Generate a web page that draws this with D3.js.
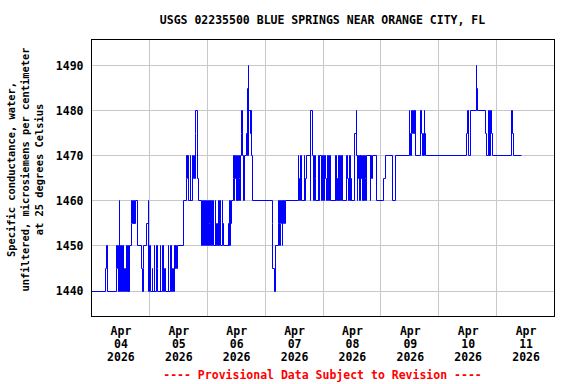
<!DOCTYPE html>
<html>
<head>
<meta charset="utf-8">
<script src="https://cdn.jsdelivr.net/npm/d3@7"></script>
<style>
    body { margin: 0; background: #fff; }
    text { font-family: "DejaVu Sans Mono", monospace; font-weight: bold; font-size: 11.5px; }
</style>
</head>
<body>
<div id="chart"></div>
<script>
// chart text
const title = "USGS 02235500 BLUE SPRINGS NEAR ORANGE CITY, FL";
const yTitle = ["Specific conductance, water,", "unfiltered, microsiemens per centimeter", "at 25 degrees Celsius"];
const footnote = "---- Provisional Data Subject to Revision ----";

// axis ticks
const yTicks = [1440, 1450, 1460, 1470, 1480, 1490];
const dayTicks = ["2026-04-04", "2026-04-05", "2026-04-06", "2026-04-07", "2026-04-08", "2026-04-09", "2026-04-10", "2026-04-11"];

// readings: [hours after Apr 04 00:00, value held from then on]
const steps = [
    [0, 1440], [6.0, 1445], [6.25, 1450], [6.75, 1440],
    [10.25, 1445], [10.5, 1450], [10.75, 1445], [11.0, 1450], [11.25, 1440], [11.5, 1460], [11.75, 1450],
    [12.0, 1440], [12.25, 1450], [12.5, 1445], [12.75, 1440], [13.0, 1450], [13.25, 1440], [13.75, 1445],
    [14.0, 1440], [14.5, 1450], [14.75, 1440], [15.25, 1450], [15.5, 1440], [15.75, 1450],
    [16.5, 1455], [16.75, 1460], [17.0, 1455], [17.25, 1460], [17.5, 1455], [17.75, 1460], [18.0, 1455], [18.25, 1460],
    [19.25, 1450], [20.75, 1445], [21.0, 1440], [21.5, 1445], [21.75, 1450], [23.0, 1455], [23.5, 1460],
    [23.75, 1440], [24.25, 1450], [24.5, 1440], [25.25, 1445], [25.5, 1440], [26.0, 1450], [26.25, 1440],
    [27.0, 1450], [27.25, 1445], [27.5, 1440], [28.5, 1450], [28.75, 1440], [29.5, 1450], [29.75, 1440],
    [30.25, 1445], [30.5, 1440], [31.75, 1450], [32.0, 1440], [32.75, 1450], [33.0, 1440], [33.75, 1445], [34.0, 1440],
    [34.5, 1450], [34.75, 1445], [35.0, 1450], [35.25, 1445], [35.5, 1450],
    [38.25, 1460], [39.25, 1465], [39.5, 1470], [39.75, 1465], [40.0, 1470], [40.25, 1460], [41.0, 1470], [41.25, 1460],
    [41.75, 1470], [42.0, 1465], [42.5, 1470], [42.75, 1465], [43.0, 1475], [43.25, 1480], [43.75, 1465], [44.25, 1460],
    [45.5, 1450], [46.0, 1460], [46.25, 1450], [46.5, 1455], [46.75, 1450], [47.0, 1460], [47.25, 1450], [47.75, 1460],
    [48.0, 1450], [48.5, 1460], [48.75, 1455], [49.0, 1450], [49.5, 1460], [49.75, 1450], [50.25, 1460], [50.5, 1450],
    [51.25, 1460], [51.5, 1450], [52.0, 1455], [52.25, 1450], [52.5, 1460], [52.75, 1450], [53.25, 1460], [53.5, 1450],
    [54.25, 1460], [54.5, 1455], [54.75, 1450], [56.75, 1455], [57.0, 1450], [57.25, 1460], [57.5, 1450], [57.75, 1455],
    [58.0, 1460], [58.75, 1465], [59.0, 1470], [59.25, 1460], [59.5, 1470], [59.75, 1465], [60.0, 1470], [60.25, 1460],
    [60.5, 1470], [60.75, 1460], [61.0, 1470], [61.25, 1465], [61.5, 1460], [61.75, 1470], [62.0, 1475], [62.25, 1480],
    [62.5, 1470], [63.0, 1460], [63.25, 1470], [64.25, 1475], [64.5, 1485], [64.75, 1470], [65.0, 1490], [65.25, 1480],
    [65.75, 1475], [66.0, 1480], [66.5, 1470], [66.75, 1460],
    [75.0, 1455], [75.25, 1445], [75.75, 1440], [76.25, 1450], [77.5, 1455], [77.75, 1460], [78.0, 1450], [78.25, 1455],
    [78.5, 1460], [78.75, 1455], [79.0, 1450], [79.25, 1460], [79.5, 1455], [79.75, 1460], [80.0, 1455], [80.25, 1460],
    [85.75, 1470], [86.0, 1465], [86.25, 1460], [86.75, 1470], [87.0, 1460], [88.25, 1470], [88.5, 1460], [88.75, 1465],
    [89.25, 1470], [90.75, 1460], [91.0, 1480], [91.75, 1470], [92.25, 1460], [92.5, 1470], [92.75, 1465], [93.0, 1460],
    [94.0, 1470], [94.25, 1460], [94.75, 1470], [95.5, 1460], [95.75, 1470], [96.0, 1460], [96.75, 1470], [97.0, 1465],
    [97.5, 1460], [98.0, 1470], [98.25, 1460], [98.5, 1470], [99.0, 1460], [101.0, 1470], [101.25, 1460], [101.5, 1470],
    [101.75, 1465], [102.0, 1460], [102.25, 1470], [102.5, 1460], [102.75, 1470], [103.25, 1460], [103.5, 1470], [104.0, 1460],
    [105.75, 1470], [106.0, 1465], [106.5, 1460], [107.0, 1470], [107.25, 1460], [107.75, 1465], [108.0, 1460], [109.0, 1470],
    [109.25, 1475], [109.75, 1480], [110.0, 1470], [110.25, 1460], [110.5, 1470], [110.75, 1465], [111.0, 1460], [111.25, 1470],
    [111.5, 1460], [111.75, 1470], [112.0, 1465], [112.25, 1470], [112.5, 1460], [112.75, 1470], [113.0, 1460], [113.25, 1470],
    [113.5, 1465], [113.75, 1460], [114.0, 1470], [115.5, 1460], [115.75, 1470], [116.25, 1465], [116.5, 1470],
    [118.25, 1460], [121.25, 1465], [121.75, 1470], [124.75, 1460], [126.0, 1470],
    [131.75, 1480], [132.0, 1475], [132.25, 1470], [132.5, 1475], [132.75, 1480], [133.0, 1475], [133.5, 1480], [133.75, 1475],
    [134.0, 1480], [134.25, 1470], [136.5, 1480], [137.0, 1475], [137.25, 1470], [137.5, 1475], [137.75, 1470], [138.0, 1480],
    [138.25, 1475], [138.5, 1470],
    [155.5, 1475], [155.75, 1480], [156.25, 1470], [157.0, 1480], [159.5, 1490], [159.75, 1485], [160.0, 1480],
    [163.5, 1475], [163.75, 1470], [164.5, 1480], [164.75, 1470], [165.0, 1480], [165.25, 1470], [165.5, 1480], [165.75, 1475],
    [166.25, 1470], [174.25, 1480], [174.5, 1475], [175.0, 1470], [178.5, 1470]
];

const W = 576, H = 384;
const margin = {top: 39, right: 22, bottom: 68, left: 91};
const width = W - margin.left - margin.right;
const height = H - margin.top - margin.bottom;

const start = new Date(2026, 3, 4);
const end = new Date(2026, 3, 12);
const toDate = h => new Date(start.getTime() + h * 3600e3);
const parseDay = d3.timeParse("%Y-%m-%d");

const data = steps.map(d => ({date: toDate(d[0]), value: d[1]}));

const svg = d3.select("#chart").append("svg")
    .attr("width", W)
    .attr("height", H);

const g = svg.append("g")
    .attr("transform", `translate(${margin.left + 0.5},${margin.top + 0.5})`);

const x = d3.scaleTime().domain([start, end]).range([0, width]);
const y = d3.scaleLinear().domain([1434.35, 1495.8]).range([height, 0]);

// grid
g.append("g")
    .attr("class", "grid")
    .selectAll("line")
    .data(yTicks)
    .join("line")
    .attr("x1", 0).attr("x2", width)
    .attr("y1", d => Math.round(y(d))).attr("y2", d => Math.round(y(d)))
    .attr("stroke", "#c8c8c8");

g.append("g")
    .attr("class", "grid")
    .selectAll("line")
    .data(dayTicks.slice(1))
    .join("line")
    .attr("x1", d => Math.round(x(parseDay(d)))).attr("x2", d => Math.round(x(parseDay(d))))
    .attr("y1", 0).attr("y2", height)
    .attr("stroke", "#c8c8c8");

// data line
const line = d3.line()
    .x(d => Math.round(x(d.date)))
    .y(d => Math.round(y(d.value)))
    .curve(d3.curveStepAfter);

g.append("path")
    .datum(data)
    .attr("d", line)
    .attr("fill", "none")
    .attr("stroke", "#0000ff")
    .attr("stroke-width", 1);

// frame
g.append("rect")
    .attr("width", width)
    .attr("height", height)
    .attr("fill", "none")
    .attr("stroke", "black");

// y axis labels
const yAxis = d3.axisLeft(y).tickValues(yTicks).tickSize(0).tickPadding(8).tickFormat(d3.format("d"));
g.append("g").call(yAxis)
    .call(a => a.select(".domain").remove())
    .selectAll("text")
    .attr("fill", "black")
    .style("font-size", "11.5px")
    .style("font-family", "DejaVu Sans Mono");

// x axis labels, centred on noon of each day
const noon = dayTicks.map(d => d3.timeHour.offset(parseDay(d), 12));
const xAxis = d3.axisBottom(x).tickValues(noon).tickSize(0).tickFormat("");
const xg = g.append("g")
    .attr("transform", `translate(0,${height})`)
    .call(xAxis);
xg.select(".domain").remove();
xg.selectAll(".tick").each(function(d) {
    const t = d3.select(this).append("text")
        .attr("fill", "black")
        .attr("text-anchor", "middle");
    const parts = [d3.timeFormat("%b")(d), d3.timeFormat("%d")(d), d3.timeFormat("%Y")(d)];
    parts.forEach((p, i) => {
        t.append("tspan").attr("x", 0).attr("y", 18 + i * 13).text(p);
    });
});

// y title
const yt = svg.append("text")
    .attr("transform", `translate(0,${margin.top + height / 2 - 8}) rotate(-90)`)
    .attr("text-anchor", "middle")
    .style("font-size", "10.4px");
yTitle.forEach((s, i) => {
    yt.append("tspan").attr("x", 0).attr("y", 15 + i * 14).text(s);
});

// title
svg.append("text")
    .attr("x", margin.left + width / 2)
    .attr("y", 24)
    .attr("text-anchor", "middle")
    .text(title);

// provisional note
svg.append("text")
    .attr("x", margin.left + width / 2)
    .attr("y", 379)
    .attr("text-anchor", "middle")
    .attr("fill", "#ff0000")
    .text(footnote);
</script>
</body>
</html>
